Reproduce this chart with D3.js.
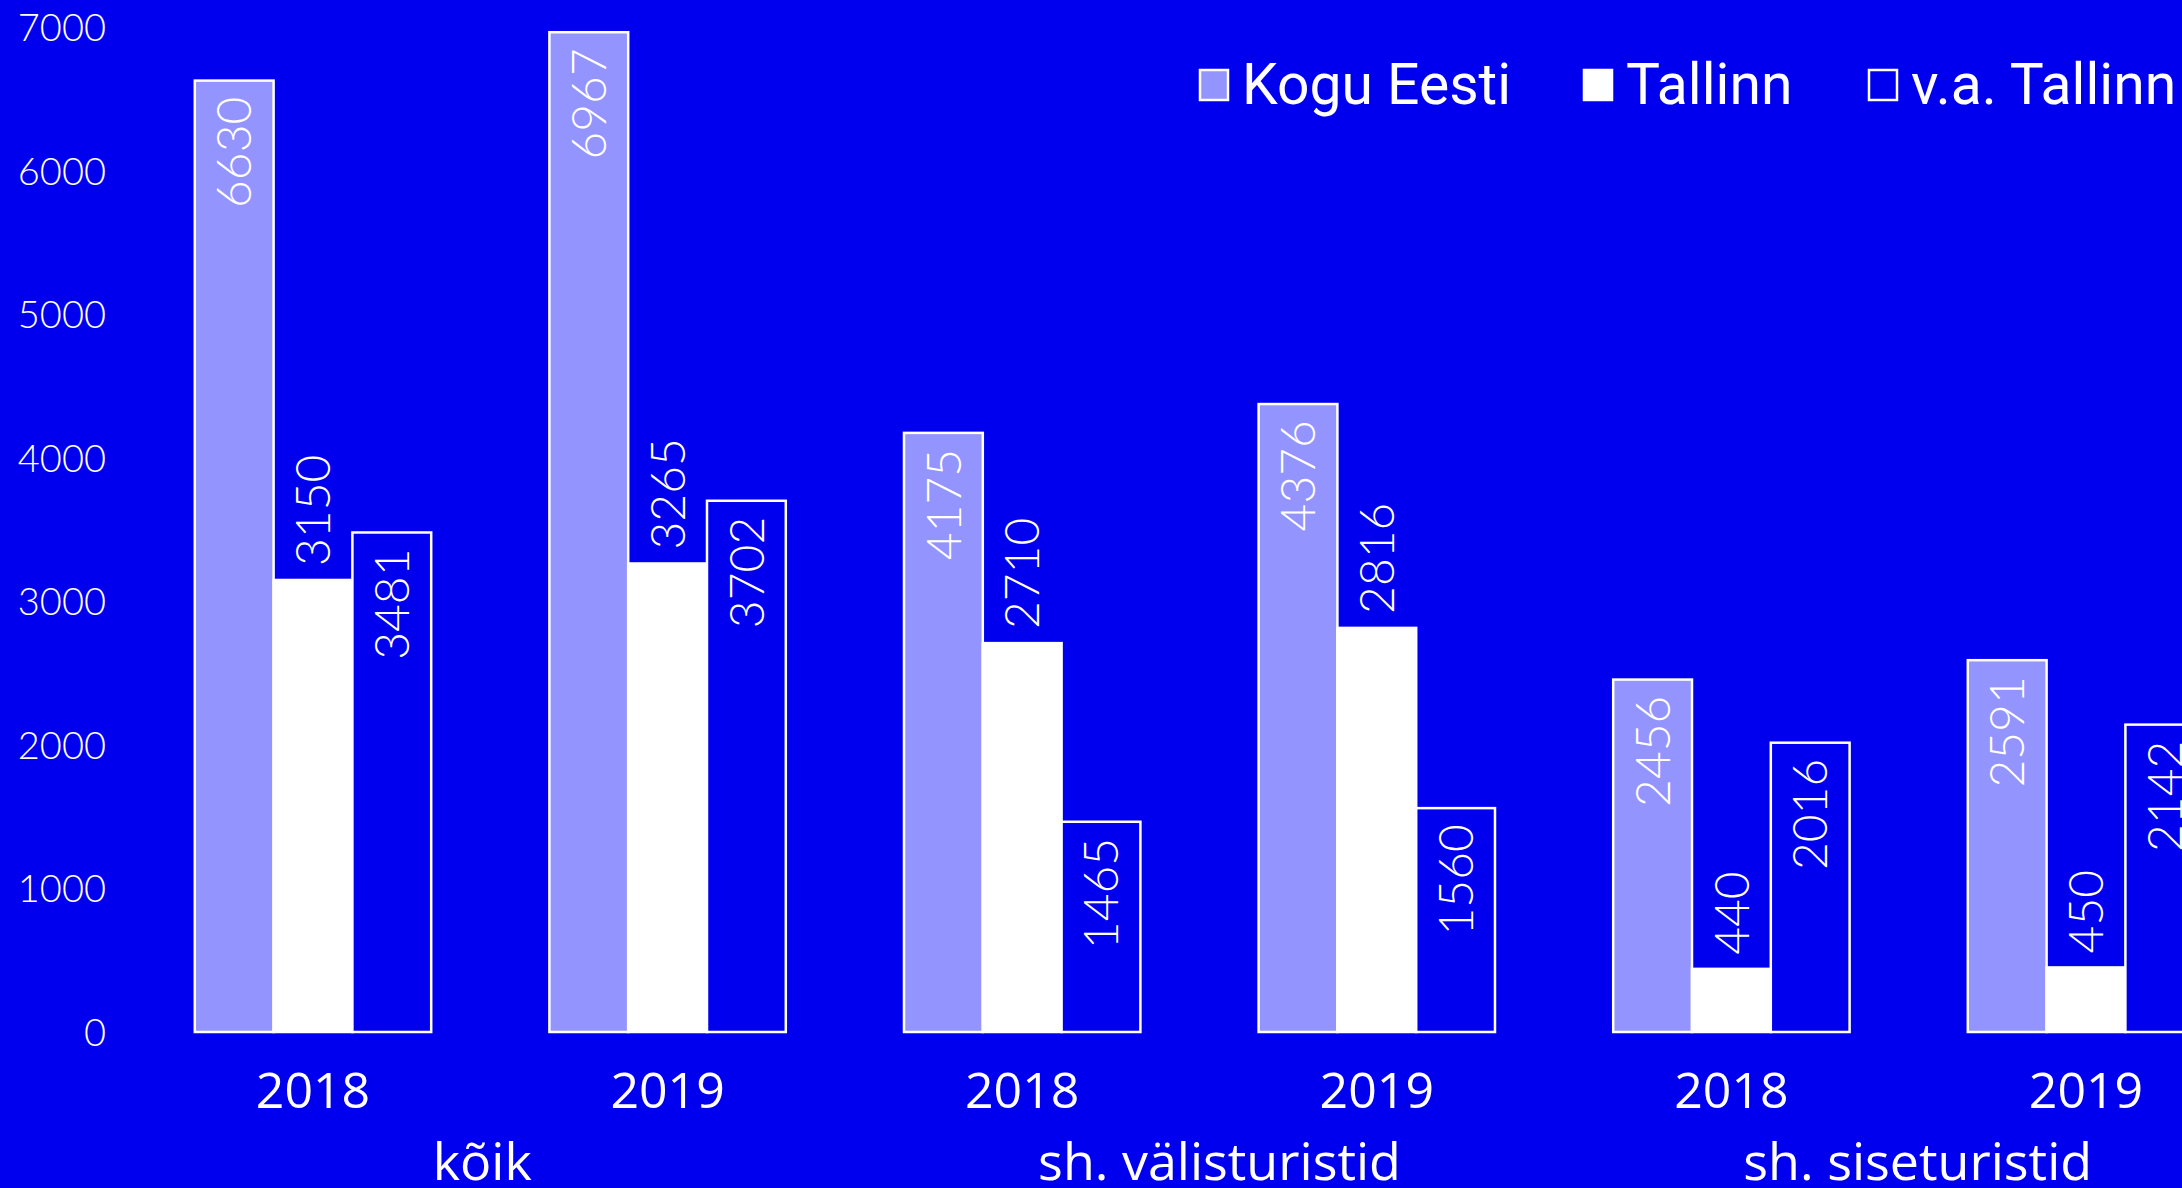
<!DOCTYPE html>
<html>
<head>
<meta charset="utf-8">
<script src="https://cdn.jsdelivr.net/npm/d3@7"></script>
<style>
  html, body { margin: 0; padding: 0; background: #0000ee; overflow: hidden; }
  svg { display: block; }
</style>
</head>
<body>
<svg id="chart" width="2182" height="1188"></svg>
<script>
// ---- data ----
const categories = ["kõik", "sh. välisturistid", "sh. siseturistid"];
const years = ["2018", "2019"];
const seriesNames = ["Kogu Eesti", "Tallinn", "v.a. Tallinn"];
// values per group (category × year): kõik 2018, kõik 2019, välis 2018, välis 2019, sise 2018, sise 2019
const koguEesti = [6630, 6967, 4175, 4376, 2456, 2591];
const tallinn   = [3150, 3265, 2710, 2816, 440, 450];
const vaTallinn = [3481, 3702, 1465, 1560, 2016, 2142];
const yTicks = [0, 1000, 2000, 3000, 4000, 5000, 6000, 7000];

// ---- layout ----
const W = 2182, H = 1188;
const BG = "#0000ee";
const colors = { "Kogu Eesti": "#9494ff", "Tallinn": "#ffffff", "v.a. Tallinn": BG };
const catNudge = [-8, 20, 9];

const svg = d3.select("#chart");
svg.append("rect").attr("width", W).attr("height", H).attr("fill", BG);

const groups = [];
categories.forEach((c, ci) => years.forEach((yr) => groups.push({ id: ci + "-" + yr, cat: c, year: yr, idx: groups.length })));
const seriesData = [koguEesti, tallinn, vaTallinn];

const x = d3.scaleBand().domain(groups.map(g => g.id)).range([135.7, 135.7 + 6 * 354.6]).paddingInner(1 / 3).paddingOuter(1 / 6);
const xs = d3.scaleBand().domain(seriesNames).range([0, x.bandwidth()]).padding(0);
const y = d3.scaleLinear().domain([0, 7000]).range([1032, 27.5]);

// y axis labels (no line, no ticks)
const yAxis = d3.axisLeft(y).tickValues(yTicks).tickSize(0).tickPadding(0).tickFormat(d3.format("d"));
const yg = svg.append("g").attr("transform", "translate(106,0)").call(yAxis);
yg.select(".domain").remove();
yg.selectAll("text")
  .attr("fill", "#fff")
  .attr("font-family", "Lato, 'Open Sans', sans-serif")
  .attr("font-weight", 300)
  .attr("font-size", 38)
  .attr("dy", "0.35em");

// bars
const gG = svg.selectAll("g.grp").data(groups).join("g").attr("class", "grp")
  .attr("transform", g => `translate(${x(g.id)},0)`);

seriesNames.forEach((s, si) => {
  gG.append("rect")
    .attr("x", xs(s))
    .attr("y", g => y(seriesData[si][g.idx]))
    .attr("width", xs.bandwidth())
    .attr("height", g => y(0) - y(seriesData[si][g.idx]))
    .attr("fill", colors[s])
    .attr("stroke", "#fff")
    .attr("stroke-width", 2.5);
});

// value labels (rotated)
seriesNames.forEach((s, si) => {
  gG.append("text")
    .attr("transform", g => {
      const v = seriesData[si][g.idx];
      const cx = xs(s) + xs.bandwidth() / 2;
      const yy = si === 1 ? y(v) - 14 : y(v) + 16;
      return `translate(${cx},${yy}) rotate(-90)`;
    })
    .attr("text-anchor", si === 1 ? "start" : "end")
    .attr("dy", "0.36em")
    .attr("fill", "#fff")
    .attr("font-family", "Lato, 'Open Sans', sans-serif")
    .attr("font-weight", 300)
    .attr("font-size", 48)
    .text(g => seriesData[si][g.idx]);
});

// year labels
svg.selectAll("text.year").data(groups).join("text").attr("class", "year")
  .attr("x", g => x(g.id) + x.bandwidth() / 2)
  .attr("y", 1108)
  .attr("text-anchor", "middle")
  .attr("fill", "#fff")
  .attr("font-family", "'Open Sans', sans-serif")
  .attr("font-size", 50)
  .text(g => g.year);

// category labels
svg.selectAll("text.cat").data(categories).join("text").attr("class", "cat")
  .attr("x", (c, ci) => {
    const a = x(ci + "-" + years[0]) + x.bandwidth() / 2;
    const b = x(ci + "-" + years[1]) + x.bandwidth() / 2;
    return (a + b) / 2 + catNudge[ci];
  })
  .attr("y", 1180)
  .attr("text-anchor", "middle")
  .attr("fill", "#fff")
  .attr("font-family", "'Open Sans', sans-serif")
  .attr("font-size", 52)
  .text(c => c);

// legend
const legendX = [1200, 1584, 1869];
const lg = svg.append("g").selectAll("g").data(seriesNames).join("g")
  .attr("transform", (s, i) => `translate(${legendX[i]},70)`);
lg.append("rect").attr("width", 28).attr("height", 30)
  .attr("fill", s => colors[s]).attr("stroke", "#fff").attr("stroke-width", 2.5);
lg.append("text").attr("x", 42).attr("y", 34)
  .attr("fill", "#fff")
  .attr("font-family", "Roboto, 'Open Sans', sans-serif")
  .attr("font-size", 57)
  .text(s => s);
</script>
</body>
</html>
